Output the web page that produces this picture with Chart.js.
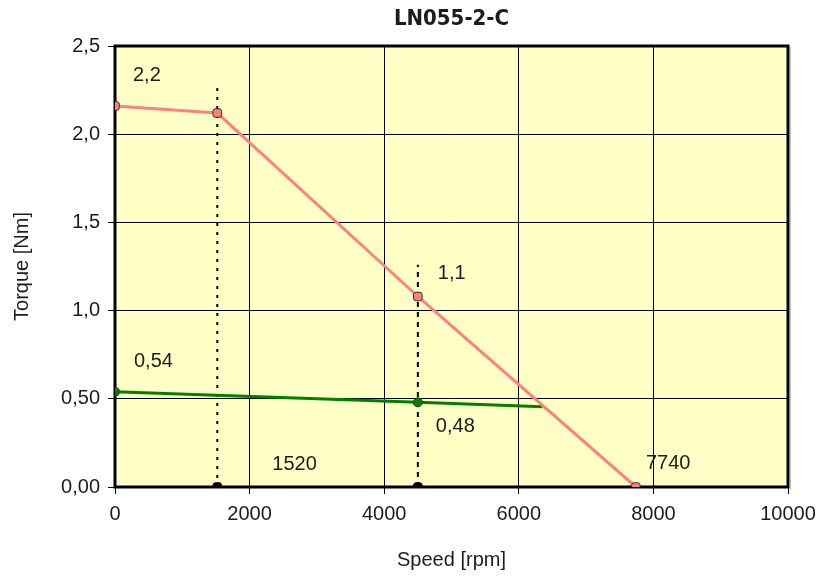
<!DOCTYPE html>
<html>
<head>
<meta charset="utf-8">
<script src="https://cdn.jsdelivr.net/npm/chart.js@4/dist/chart.umd.min.js"></script>
<style>
  html, body { margin: 0; padding: 0; background: #ffffff; }
  #wrap { width: 821px; height: 581px; }
</style>
</head>
<body>
<div id="wrap"><canvas id="c" width="821" height="581"></canvas></div>
<script>
// Motor LN055-2-C: torque vs. speed
const chartTitle = 'LN055-2-C';
const xAxisTitle = 'Speed [rpm]';
const yAxisTitle = 'Torque [Nm]';

// peak torque curve
const peakSpeed  = [0, 1520, 4500, 7740];
const peakTorque = [2.16, 2.12, 1.08, 0];

// continuous torque curve
const contSpeed  = [0, 4500, 6350];
const contTorque = [0.54, 0.48, 0.455];

// reference speeds and the height of their guide lines
const markSpeed    = [1520, 4500];
const markGuideTop = [2.27, 1.26];

// axis ticks
const xTicks = [0, 2000, 4000, 6000, 8000, 10000];
const yTicks = [0, 0.5, 1.0, 1.5, 2.0, 2.5];
const yTickLabels = ['0,00', '0,50', '1,0', '1,5', '2,0', '2,5'];

const TEXT = '#1c1c1c';
const FONT_FAMILY = "'Liberation Sans', Arial, sans-serif";
const FONT_SIZE = 20;
const PLOT_BG = '#FFFFC6';

const fmtTorque = v => v.toPrecision(2).replace('.', ',');
const pts = (xs, ys) => xs.map((x, i) => ({ x, y: ys[i] }));

// value labels: which point they belong to and where they sit beside it
const valueLabels = [
  { ds: 0, i: 0, text: fmtTorque(peakTorque[0]), dx: 18, dy: -30 },
  { ds: 0, i: 2, text: fmtTorque(peakTorque[2]), dx: 20, dy: -23 },
  { ds: 1, i: 0, text: fmtTorque(contTorque[0]), dx: 19, dy: -30 },
  { ds: 1, i: 1, text: fmtTorque(contTorque[1]), dx: 18, dy: 24 },
  { ds: 2, i: 0, text: String(markSpeed[0]),     dx: 55, dy: -23 },
  { ds: 0, i: 3, text: String(peakSpeed[3]),     dx: 10, dy: -24 }
];

const plotDecor = {
  id: 'plotDecor',
  beforeDraw(chart) {
    const { ctx, chartArea: a } = chart;
    ctx.save();
    ctx.fillStyle = '#ffffff';
    ctx.fillRect(0, 0, chart.width, chart.height);
    ctx.fillStyle = PLOT_BG;
    ctx.fillRect(a.left, a.top, a.right - a.left, a.bottom - a.top);
    ctx.restore();
  },
  beforeDatasetsDraw(chart) {
    const { ctx, chartArea: a } = chart;
    ctx.save();
    // soft shadow on the right of the frame
    ctx.strokeStyle = 'rgba(0,0,0,0.25)';
    ctx.lineWidth = 1;
    ctx.beginPath();
    ctx.moveTo(a.right + 2.5, a.top + 1);
    ctx.lineTo(a.right + 2.5, a.bottom + 2.5);
    ctx.stroke();
    ctx.strokeStyle = '#000';
    ctx.lineWidth = 3;
    ctx.strokeRect(a.left, a.top, a.right - a.left, a.bottom - a.top);
    ctx.restore();
  },
  afterDraw(chart) {
    const { ctx, chartArea: a } = chart;
    ctx.save();
    // title centred over the plot area
    ctx.fillStyle = TEXT;
    ctx.font = "bold 22px 'DejaVu Sans Condensed', 'DejaVu Sans', sans-serif";
    ctx.textAlign = 'center';
    ctx.textBaseline = 'middle';
    ctx.fillText(chartTitle, (a.left + a.right) / 2, 19);
    // value labels
    ctx.font = FONT_SIZE + 'px ' + FONT_FAMILY;
    ctx.textAlign = 'left';
    valueLabels.forEach(l => {
      const p = chart.getDatasetMeta(l.ds).data[l.i];
      ctx.fillText(l.text, p.x + l.dx, p.y + l.dy);
    });
    ctx.restore();
  }
};

new Chart(document.getElementById('c'), {
  type: 'line',
  data: {
    datasets: [
      {
        data: pts(peakSpeed, peakTorque),
        borderColor: '#FF8080',
        borderWidth: 3,
        backgroundColor: '#FF8080',
        pointStyle: 'rectRounded',
        pointRadius: 5,
        pointBackgroundColor: '#FF8080',
        pointBorderColor: '#3a2a2a',
        pointBorderWidth: 1
      },
      {
        data: pts(contSpeed, contTorque),
        borderColor: '#008000',
        borderWidth: 3,
        backgroundColor: '#008000',
        pointStyle: 'circle',
        pointRadius: [4.5, 4.5, 0],
        pointBackgroundColor: '#0a7a0a',
        pointBorderColor: '#0a4a0a',
        pointBorderWidth: 1
      },
      {
        data: pts(markSpeed, markSpeed.map(() => 0)),
        showLine: false,
        pointStyle: 'rectRounded',
        pointRadius: 5,
        pointBackgroundColor: '#000',
        pointBorderColor: '#000',
        pointBorderWidth: 1
      },
      {
        data: [{ x: markSpeed[0], y: 0 }, { x: markSpeed[0], y: markGuideTop[0] }],
        borderColor: '#000',
        borderWidth: 2,
        borderDash: [3, 6],
        pointRadius: 0
      },
      {
        data: [{ x: markSpeed[1], y: 0 }, { x: markSpeed[1], y: markGuideTop[1] }],
        borderColor: '#000',
        borderWidth: 2,
        borderDash: [5, 5],
        pointRadius: 0
      }
    ]
  },
  options: {
    responsive: false,
    animation: false,
    devicePixelRatio: 1,
    layout: { padding: { left: 0, right: 33, top: 46, bottom: 0 } },
    plugins: {
      legend: { display: false },
      tooltip: { enabled: false },
      title: { display: false }
    },
    elements: { line: { tension: 0 } },
    scales: {
      x: {
        type: 'linear',
        min: xTicks[0],
        max: xTicks[xTicks.length - 1],
        afterBuildTicks: s => { s.ticks = xTicks.map(v => ({ value: v })); },
        afterFit: s => { s.height = 94; s.paddingLeft = 0; s.paddingRight = 0; },
        border: { display: false },
        grid: { color: '#000', lineWidth: 1, tickLength: 7, tickColor: '#000', drawTicks: true },
        ticks: {
          color: TEXT,
          font: { family: FONT_FAMILY, size: FONT_SIZE },
          padding: 8,
          maxRotation: 0,
          callback: v => String(v)
        },
        title: {
          display: true,
          text: xAxisTitle,
          color: TEXT,
          font: { family: FONT_FAMILY, size: FONT_SIZE },
          padding: { top: 0, bottom: 9 }
        }
      },
      y: {
        type: 'linear',
        min: yTicks[0],
        max: yTicks[yTicks.length - 1],
        afterBuildTicks: s => { s.ticks = yTicks.map(v => ({ value: v })); },
        afterFit: s => { s.width = 115; s.paddingTop = 0; s.paddingBottom = 0; },
        border: { display: false },
        grid: { color: '#000', lineWidth: 1, tickLength: 7, tickColor: '#000', drawTicks: true },
        ticks: {
          color: TEXT,
          font: { family: FONT_FAMILY, size: FONT_SIZE },
          padding: 8,
          callback: v => yTickLabels[yTicks.indexOf(v)]
        },
        title: {
          display: true,
          text: yAxisTitle,
          color: TEXT,
          font: { family: FONT_FAMILY, size: FONT_SIZE },
          padding: { top: 10, bottom: 0 }
        }
      }
    }
  },
  plugins: [plotDecor]
});
</script>
</body>
</html>
